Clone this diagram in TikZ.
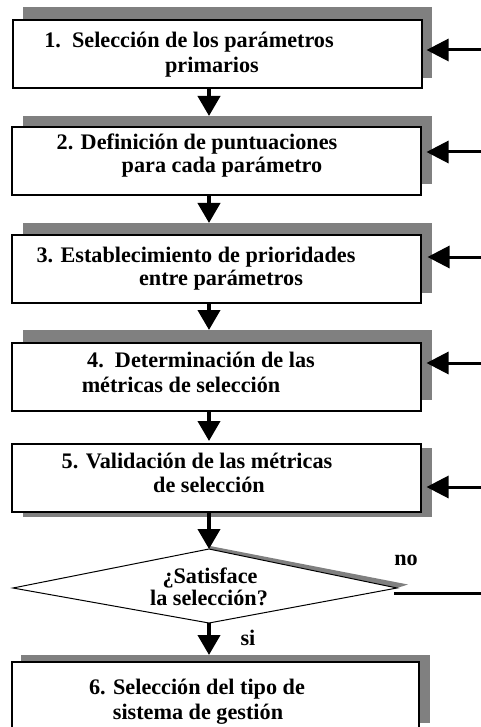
\documentclass[tikz,border=0pt]{standalone}
\usepackage{fontspec}
\setmainfont{Liberation Serif}
\usetikzlibrary{arrows.meta}
\definecolor{shadowgray}{RGB}{128,128,128}
\begin{document}
\begin{tikzpicture}[x=1pt,y=-1pt,
  box/.style={draw=black,line width=2pt,fill=white,minimum width=409pt,minimum height=68pt,inner sep=0pt},
  shade/.style={fill=shadowgray,draw=none},
  txt/.style={font=\fontsize{22.2}{24}\selectfont\bfseries,anchor=base,inner sep=0pt},
  down/.style={-{Triangle[length=20pt,width=22pt]},line width=4pt},
  inarrow/.style={-{Triangle[length=22pt,width=22pt]},line width=3pt}]
\useasboundingbox (0,0) rectangle (481,727);
\clip (0,0) rectangle (481,727);
% shadows
\fill[shade] (23,7) rectangle (432,78);
\fill[shade] (23,116) rectangle (432,184);
\fill[shade] (23,223) rectangle (432,293);
\fill[shade] (23,330) rectangle (432,400);
\fill[shade] (23,448) rectangle (432,517);
\fill[shade] (21,655) rectangle (430,723);
% boxes
\node[box] (b1) at (217,54) {};
\node[box] (b2) at (216.5,161.5) {};
\node[box] (b3) at (216.5,268.5) {};
\node[box] (b4) at (216.5,376.5) {};
\node[box] (b5) at (216.5,478) {};
\node[box,minimum width=407pt,minimum height=70pt] (b6) at (215.5,697) {};
% diamond
\fill[shade] (209,549) -- (210,546) -- (408,584.5) -- (397,588) -- cycle;
\draw[line width=1pt,fill=white] (209,549) -- (397,588) -- (209,623) -- (13,588) -- cycle;
\coordinate (dtop) at (209,549);
\coordinate (dbot) at (209,623);
\coordinate (dright) at (394,593);
% texts
\node[txt] (t1a) at (189,48) {1.\ \ Selección de los parámetros};
\node[txt] (t1b) at (212,73) {primarios};
\node[txt] (t2a) at (197,150) {2. Definición de puntuaciones};
\node[txt] (t2b) at (222,173) {para cada parámetro};
\node[txt] (t3a) at (196,262) {3. Establecimiento de prioridades};
\node[txt] (t3b) at (221,285) {entre parámetros};
\node[txt] (t4a) at (201,367) {4.\ \ Determinación de las};
\node[txt] (t4b) at (181,392) {métricas de selección};
\node[txt] (t5a) at (197,468) {5. Validación de las métricas};
\node[txt] (t5b) at (209,492) {de selección};
\node[txt] (dq1) at (210,583) {¿Satisface};
\node[txt] (dq2) at (209,605) {la selección?};
\node[txt] (no) at (406,565) {no};
\node[txt] (si) at (248,645) {si};
\node[txt] (t6a) at (197,694) {6. Selección del tipo de};
\node[txt] (t6b) at (198,719) {sistema de gestión};
% down arrows
\coordinate (p2) at (209,116);
\coordinate (p3) at (209,223);
\coordinate (p4) at (209,330);
\coordinate (p5) at (209,441);
\coordinate (p6) at (209,655);
\draw[down] (b1.south -| p2) -- (p2);
\draw[down] (b2.south -| p3) -- (p3);
\draw[down] (b3.south -| p4) -- (p4);
\draw[down] (b4.south -| p5) -- (p5);
\draw[down] (b5.south -| dtop) -- (dtop);
\draw[down] (dbot) -- (p6);
% incoming arrows
\coordinate (i1) at (481,50);
\coordinate (i2) at (481,152);
\coordinate (i3) at (481,257);
\coordinate (i4) at (481,363);
\coordinate (i5) at (481,487);
\draw[inarrow] (i1) -- ([xshift=4pt]b1.east |- i1);
\draw[inarrow] (i2) -- ([xshift=4.5pt]b2.east |- i2);
\draw[inarrow] (i3) -- ([xshift=5.5pt]b3.east |- i3);
\draw[inarrow] (i4) -- ([xshift=4.5pt]b4.east |- i4);
\draw[inarrow] (i5) -- ([xshift=4.5pt]b5.east |- i5);
% no line
\coordinate (noend) at (481,593);
\draw[line width=3pt] (dright) -- (noend);
\end{tikzpicture}
\end{document}
